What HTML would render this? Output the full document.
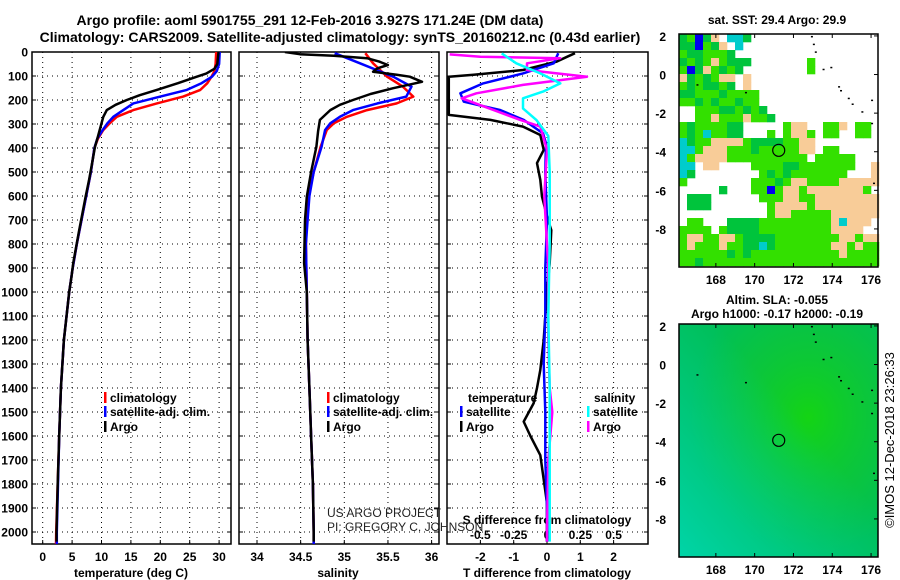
<!DOCTYPE html>
<html><head><meta charset="utf-8"><style>
body{margin:0;background:#fff;}
svg{display:block;font-family:"Liberation Sans",sans-serif;}
.tk{font-size:12px;font-weight:bold;fill:#000;}
.tt{font-size:14px;font-weight:bold;fill:#000;}
.lg{font-size:12px;font-weight:bold;fill:#000;}
</style></head><body>
<svg id="chart" width="900" height="580" viewBox="0 0 900 580">
<defs>
<clipPath id="c1"><rect x="32" y="52" width="199" height="492"/></clipPath>
<clipPath id="c2"><rect x="239" y="52" width="200" height="492"/></clipPath>
<clipPath id="c3"><rect x="447" y="52" width="201" height="492"/></clipPath>
<radialGradient id="rg" cx="0.65" cy="0.4" r="0.6"><stop offset="0" stop-color="#14d414"/><stop offset="0.6" stop-color="#10c830" stop-opacity="0.6"/><stop offset="1" stop-color="#10c830" stop-opacity="0"/></radialGradient>
<linearGradient id="lg2" x1="0" y1="1" x2="0.6" y2="0.4"><stop offset="0" stop-color="#00d4a8"/><stop offset="1" stop-color="#00d0a0" stop-opacity="0"/></linearGradient>
</defs>
<text class="tt" x="310" y="25" text-anchor="middle">Argo profile: aoml 5901755_291 12-Feb-2016 3.927S 171.24E (DM data)</text>
<text class="tt" x="340" y="42" text-anchor="middle">Climatology: CARS2009. Satellite-adjusted climatology: synTS_20160212.nc (0.43d earlier)</text>
<g id="g1"></g>
<g id="g2"></g>
<g id="g3"></g>
<g id="m1"></g>
<g id="m2"></g>
<text x="327" y="517" font-size="12" fill="#222">US ARGO PROJECT</text>
<text x="327" y="531" font-size="12" fill="#222">PI: GREGORY C. JOHNSON</text>
<text x="0" y="0" font-size="13" fill="#000" transform="translate(894,440) rotate(-90)" text-anchor="middle">©IMOS 12-Dec-2018 23:26:33</text>
</svg>
<script>
// ---- data ----
const depthTicks=[0,100,200,300,400,500,600,700,800,900,1000,1100,1200,1300,1400,1500,1600,1700,1800,1900,2000];
const tempTicks=[0,5,10,15,20,25,30];
const salTicks=[34,34.5,35,35.5,36];
const dTTicks=[-2,-1,0,1,2];
const dSTicks=[-0.5,-0.25,0,0.25,0.5];
const tempClimD=[0,50,80,103,130,158,186,214,242,270,297,325,360,400,500,600,700,800,900,1000,1200,1400,1600,1800,2000,2050];
const tempClim=[29.5,29.4,29.2,28.7,28.0,26.8,23.9,19.4,15.4,12.6,11.4,10.3,9.4,8.8,8.2,7.4,6.6,5.8,5.1,4.5,3.6,3.1,2.8,2.55,2.3,2.26];
const tempSat=[30.1,30.0,29.6,28.8,27.0,24.5,20.0,15.4,13.7,12.0,11.0,10.2,9.3,8.8,8.2,7.4,6.6,5.8,5.1,4.5,3.6,3.1,2.8,2.6,2.4,2.4];
const tempArgoD=[0,50,70,90,103,130,158,180,200,220,242,270,297,325,360,394,463,530,603,742,878,936,1000,1200,1400,1600,1800,2000,2040];
const tempArgo=[29.9,29.7,29.2,27.8,26.2,23.0,19.4,16.5,14.3,12.4,10.9,10.3,10.0,9.7,9.3,8.9,8.4,7.9,7.3,6.2,5.2,4.9,4.5,3.6,3.1,2.8,2.55,2.35,2.35];
const salClimD=[5,47,103,144,186,214,242,270,297,325,394,500,600,700,800,1000,1200,1400,1600,1800,2000,2050];
const salClim=[35.24,35.33,35.49,35.67,35.79,35.60,35.26,35.03,34.88,34.80,34.73,34.65,34.59,34.57,34.56,34.57,34.58,34.6,34.62,34.64,34.65,34.65];
const salSat=[34.89,35.18,35.56,35.77,35.71,35.38,35.10,34.95,34.84,34.78,34.74,34.65,34.6,34.58,34.56,34.57,34.58,34.6,34.62,34.64,34.65,34.65];
const salArgoD=[0,9,16,26,40,54,68,82,95,103,124,151,175,200,220,242,283,330,394,500,603,700,879,1000,1200,1400,1600,1800,2000,2040];
const salArgo=[34.32,34.49,34.88,35.26,35.40,35.50,35.38,35.33,35.6,35.75,35.89,35.56,35.30,35.10,34.95,34.84,34.72,34.70,34.68,34.62,34.57,34.55,34.54,34.57,34.58,34.6,34.62,34.64,34.65,34.65];
const dTsatD=[5,47,89,131,172,207,242,283,339,381,500,700,900,1100,1300,1500,1700,1900,2000,2040];
const dTsat=[0.34,0.2,-0.72,-1.92,-2.6,-2.5,-1.4,-0.7,-0.12,-0.03,-0.05,0.0,-0.05,-0.05,-0.1,-0.05,-0.05,0,0,0];
const dTargoD=[5,20,40,75,95,103,262,283,311,346,408,463,533,603,700,742,880,1000,1100,1200,1325,1400,1463,1540,1600,1680,1880,2000,2040];
const dTargo=[0.84,0.6,0.29,-0.72,-2.2,-2.95,-2.95,-1.7,-0.72,-0.2,-0.1,-0.3,-0.2,-0.15,0.03,0.13,0.08,0,-0.05,-0.1,-0.2,-0.3,-0.4,-0.7,-0.5,-0.2,0,0,0];
const dSsatD=[6,47,89,131,165,193,235,283,350,500,800,1100,1400,1700,2000,2040];
const dSsat=[-0.34,-0.23,-0.05,0.1,-0.03,-0.18,-0.18,-0.08,0.01,0.02,0.02,0.01,0.02,0.02,0.02,0.02];
const dSargoD=[10,20,26,47,75,103,137,172,193,242,283,311,408,600,900,1200,1400,1500,1700,2000,2040];
const dSargo=[-0.73,-0.5,0.1,-0.15,-0.15,0.3,-0.18,-0.53,-0.64,-0.4,-0.2,-0.05,0,-0.02,0.01,0.01,0.02,0.04,0.01,0,0];
const lonTicks=[168,170,172,174,176];
const latTicks=[2,0,-2,-4,-6,-8];
const floatLon=171.24, floatLat=-3.927;
const sstGrid=[
"dgbdpwccdwwwwwwwwwwwwwwww","ddbgdpwcwwwwwwwwwwwwwwwww","gddgggdwwwwwwwwwwwwwwwwww","dgdgpgdddwwwwwwwgwwwwwwww",
"gbdpgdgdwwwwwwwwgwwwwwwww","pdgdgppwpwwwwwwwwwwwwwwww","gdgddgdwpwwwwwwwwwwwwwwww","ddgggdggggwwwwwwwwwwwwwww",
"ggdgdggdggwwwwwwwwwwwwwww","wwgggddgdgdwwwwwwwwwwwwww","wwggpgggpggdwwwwwwwwwwwww","gdggggddwwwwwgppwwggpwggw",
"gdgcggddwwwgwgppgwggwwggw","cdggppppgddddggppwwwwwwww","ccgpppgggdgggggppwggwwwww","cgppppggggggggggwgggggwww",
"ccwppwwwwggggddgggggggwwp","cdwwwwwwwwgdgdgggggggwwwp","gwwwwwwwwgggdgppggggppppp","wwwwwdwwwggbgppgpppppppgw",
"wdddwwwwwwgggppggpppppppp","wdddwwwwwwwgppppgpppppppp","wwwwwwwwwwwgppgggggpppppp","wggwwwddddgggggggggpcpppw",
"ggggwgddddgggggggggppppww","gppggppgddddggggggggppgpp","gpgggpggddcdgggggggppgpgg","ggggggdgdgggggggggggpgggg","ggdgggggggggggggggggggggg"];
const coast=[[172.9,2],[173,1.6],[173.1,1.2],[173.5,0.3],[173.9,0.4],[174.3,-0.6],[174.4,-0.8],[174.8,-1.2],[175,-1.5],[175.5,-1.9],[176,-1.3],[176,-2.5],[169.5,-0.9],[167,-0.5],[176.1,-5.6]];
// ---- helpers ----
const NS='http://www.w3.org/2000/svg';
function mk(parent,tag,attrs){const e=document.createElementNS(NS,tag);for(const k in attrs)e.setAttribute(k,attrs[k]);parent.appendChild(e);return e;}
const py=d=>52+d*0.24;
const xT=t=>42.7+t*5.88;
const xS=s=>257+(s-34)*87.3;
const xDT=t=>547+t*33.3;
const xDS=s=>547+s*133.3;
function panel(g,x0,x1,vt,xf,clip){
  depthTicks.forEach(d=>{const l=mk(g,'line',{x1:x0,x2:x1,y1:py(d),y2:py(d),stroke:'#000','stroke-width':1,'stroke-dasharray':'1,4'});
  
  
  mk(g,'line',{x1:x0,x2:x0+4,y1:py(d),y2:py(d),stroke:'#000'});mk(g,'line',{x1:x1-4,x2:x1,y1:py(d),y2:py(d),stroke:'#000'});});
  vt.forEach(v=>{const l=mk(g,'line',{x1:xf(v),x2:xf(v),y1:52,y2:544,stroke:'#000','stroke-width':1,'stroke-dasharray':'1,4'});
  
  
  mk(g,'line',{x1:xf(v),x2:xf(v),y1:544,y2:540,stroke:'#000'});});
  const f=mk(g,'rect',{x:x0,y:52,width:x1-x0,height:492,fill:'none',stroke:'#000','stroke-width':1.5});
  
  
}
function curve(g,ds,vs,xf,col,clip,name,w){
  const pts=ds.map((d,i)=>xf(vs[i]).toFixed(1)+','+py(d).toFixed(1)).join(' ');
  const p=mk(g,'polyline',{points:pts,fill:'none',stroke:col,'stroke-width':w||2.5,'clip-path':'url(#'+clip+')','stroke-linejoin':'round'});
  
  
}
function text(g,x,y,s,cls,anchor,name){const t=mk(g,'text',{x:x,y:y,class:cls,'text-anchor':anchor||'middle'});t.textContent=s;
  
  return t;}
function legend(g,x,y,col,label){mk(g,'rect',{x:x,y:y-10,width:2.5,height:11,fill:col});text(g,x+6,y,label,'lg','start','legend-entry');}
// ---- panel 1 ----
const g1=document.getElementById('g1');
panel(g1,32,231,tempTicks,xT,'c1');
depthTicks.forEach(d=>text(g1,28,py(d)+4.5,String(d),'tk','end','depth-tick-label'));
tempTicks.forEach(t=>text(g1,xT(t),561,String(t),'tk','middle','temperature-tick-label'));
text(g1,131,577,'temperature (deg C)','tk','middle','x-axis-title-temperature');
curve(g1,tempClimD,tempClim,xT,'#f00','c1','temperature-climatology-line');
curve(g1,tempClimD,tempSat,xT,'#00f','c1','temperature-satellite-line');
curve(g1,tempArgoD,tempArgo,xT,'#000','c1','temperature-argo-line');
legend(g1,104,402,'#f00','climatology');legend(g1,104,416,'#00f','satellite-adj. clim.');legend(g1,104,431,'#000','Argo');
// ---- panel 2 ----
const g2=document.getElementById('g2');
panel(g2,239,439,salTicks,xS,'c2');
salTicks.forEach(s=>text(g2,xS(s),561,String(s),'tk','middle','salinity-tick-label'));
text(g2,338,577,'salinity','tk','middle','x-axis-title-salinity');
curve(g2,salClimD,salClim,xS,'#f00','c2','salinity-climatology-line');
curve(g2,salClimD,salSat,xS,'#00f','c2','salinity-satellite-line');
curve(g2,salArgoD,salArgo,xS,'#000','c2','salinity-argo-line');
legend(g2,327,402,'#f00','climatology');legend(g2,327,416,'#00f','satellite-adj. clim.');legend(g2,327,431,'#000','Argo');
// ---- panel 3 ----
const g3=document.getElementById('g3');
panel(g3,447,648,dTTicks,xDT,'c3');
dTTicks.forEach(t=>text(g3,xDT(t),561,String(t),'tk','middle','t-difference-tick-label'));
text(g3,547,577,'T difference from climatology','tk','middle','x-axis-title-t-difference');
text(g3,547,524,'S difference from climatology','tk','middle','s-axis-title');
dSTicks.forEach(s=>text(g3,xDS(s),539,String(s),'tk','middle','s-difference-tick-label'));
curve(g3,dTargoD,dTargo,xDT,'#000','c3','t-diff-argo-line');
curve(g3,dTsatD,dTsat,xDT,'#00f','c3','t-diff-satellite-line');
curve(g3,dSargoD,dSargo,xDS,'#f0f','c3','s-diff-argo-line');
curve(g3,dSsatD,dSsat,xDS,'#0ff','c3','s-diff-satellite-line');
text(g3,468,402,'temperature','lg','start','legend-title-temperature');
legend(g3,460,416,'#00f','satellite');legend(g3,460,431,'#000','Argo');
text(g3,594,402,'salinity','lg','start','legend-title-salinity');
legend(g3,587,416,'#0ff','satellite');legend(g3,587,431,'#f0f','Argo');
// ---- maps ----
const mx=l=>679+(l-166.1)*19.4;
function mapAxes(g,top){
  const my=la=>top+(2.1-la)*19.3;
  lonTicks.forEach(l=>{text(g,mx(l),top+250,String(l),'tk','middle','longitude-tick-label');mk(g,'line',{x1:mx(l),x2:mx(l),y1:top,y2:top+4,stroke:'#000'});mk(g,'line',{x1:mx(l),x2:mx(l),y1:top+233,y2:top+229,stroke:'#000'});});
  latTicks.forEach(la=>{text(g,666,my(la)+5,String(la),'tk','end','latitude-tick-label');mk(g,'line',{x1:874,x2:878,y1:my(la),y2:my(la),stroke:'#000'});});
  coast.forEach(c=>mk(g,'rect',{x:mx(c[0]),y:my(c[1]),width:2,height:1.5,fill:'#000'}));
  const ci=mk(g,'circle',{cx:mx(floatLon),cy:my(floatLat),r:6,fill:'none',stroke:'#000','stroke-width':1.2});
  
  
  const f=mk(g,'rect',{x:679,y:top,width:199,height:233,fill:'none',stroke:'#000','stroke-width':1.5});
  
  
}
const cols={g:'#33e000',d:'#00c43c',p:'#f8cc98',c:'#00cccc',b:'#0000ee'};
const m1=document.getElementById('m1');
text(m1,777,24,'sat. SST: 29.4 Argo: 29.9','tk','middle','sst-map-title');
sstGrid.forEach((row,r)=>{for(let c=0;c<25;c++){const ch=row[c];if(cols[ch]){mk(m1,'rect',{x:679+c*8,y:34+r*8,width:8.3,height:Math.min(8.3,267-(34+r*8)),fill:cols[ch]});}}});
mapAxes(m1,34);
const m2=document.getElementById('m2');
text(m2,777,304,'Altim. SLA: -0.055','tk','middle','sla-map-title');
text(m2,777,318,'Argo h1000: -0.17 h2000: -0.19','tk','middle','sla-map-subtitle');
mk(m2,'rect',{x:679,y:324,width:199,height:233,fill:'#00bf58'});
mk(m2,'rect',{x:679,y:324,width:199,height:233,fill:'url(#rg)'});
mk(m2,'rect',{x:679,y:324,width:199,height:233,fill:'url(#lg2)'});
mapAxes(m2,324);
</script>
</body></html>
